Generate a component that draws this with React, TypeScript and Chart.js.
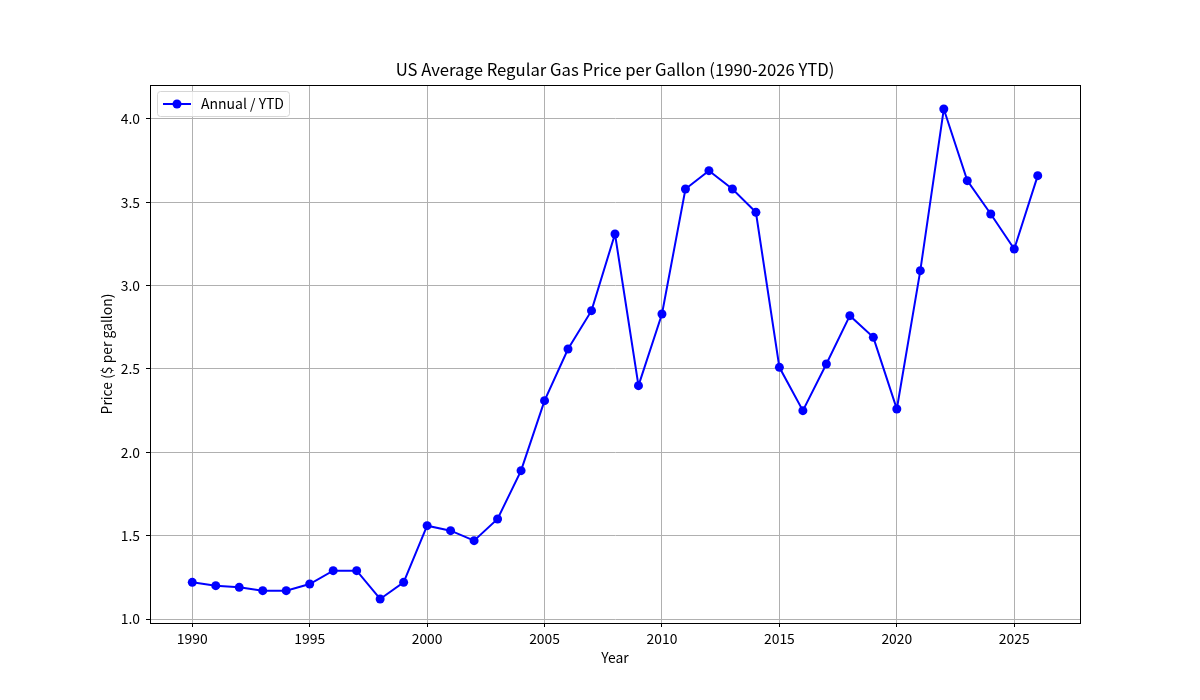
import React, { useEffect, useRef } from "react";
import { Chart, registerables } from "chart.js";

Chart.register(...registerables);

const years = [1990, 1991, 1992, 1993, 1994, 1995, 1996, 1997, 1998, 1999, 2000, 2001, 2002, 2003, 2004, 2005, 2006, 2007, 2008, 2009, 2010, 2011, 2012, 2013, 2014, 2015, 2016, 2017, 2018, 2019, 2020, 2021, 2022, 2023, 2024, 2025, 2026];
const prices = [1.22, 1.20, 1.19, 1.17, 1.17, 1.21, 1.29, 1.29, 1.12, 1.22, 1.56, 1.53, 1.47, 1.60, 1.89, 2.31, 2.62, 2.85, 3.31, 2.40, 2.83, 3.58, 3.69, 3.58, 3.44, 2.51, 2.25, 2.53, 2.82, 2.69, 2.26, 3.09, 4.06, 3.63, 3.43, 3.22, 3.66];
const xTicks = [1990, 1995, 2000, 2005, 2010, 2015, 2020, 2025];
const yTicks = [1.0, 1.5, 2.0, 2.5, 3.0, 3.5, 4.0];
const titleText = "US Average Regular Gas Price per Gallon (1990-2026 YTD)";
const xLabel = "Year";
const yLabel = "Price ($ per gallon)";
const seriesLabel = "Annual / YTD";

const FONT = "'Noto Sans CJK SC', 'Noto Sans', sans-serif";
const LINE = "#0000ff";

const framePlugin = {
  id: "frame",
  afterDatasetsDraw(chart: any) {
    const { ctx, chartArea } = chart;
    ctx.save();
    ctx.strokeStyle = "#000";
    ctx.lineWidth = 1;
    ctx.strokeRect(
      Math.round(chartArea.left) + 0.5,
      Math.round(chartArea.top) + 0.5,
      Math.round(chartArea.right - chartArea.left),
      Math.round(chartArea.bottom - chartArea.top)
    );
    ctx.restore();
  },
  afterDraw(chart: any) {
    const { ctx, chartArea } = chart;
    // title centred over the plot area
    ctx.save();
    ctx.fillStyle = "#000";
    ctx.font = `16.7px ${FONT}`;
    ctx.textAlign = "center";
    ctx.textBaseline = "middle";
    ctx.fillText(titleText, (chartArea.left + chartArea.right) / 2, chartArea.top - 15);
    ctx.restore();

    // legend inside the plot
    const x0 = chartArea.left + 7;
    const y0 = chartArea.top + 6;
    const w = 132;
    const h = 25;
    ctx.save();
    ctx.beginPath();
    if (ctx.roundRect) ctx.roundRect(x0 + 0.5, y0 + 0.5, w, h, 3);
    else ctx.rect(x0 + 0.5, y0 + 0.5, w, h);
    ctx.fillStyle = "rgba(255,255,255,0.8)";
    ctx.fill();
    ctx.strokeStyle = "#d6d6d6";
    ctx.lineWidth = 1;
    ctx.stroke();
    const cy = y0 + h / 2 + 0.5;
    ctx.beginPath();
    ctx.moveTo(x0 + 6, cy);
    ctx.lineTo(x0 + 34, cy);
    ctx.strokeStyle = LINE;
    ctx.lineWidth = 2;
    ctx.stroke();
    ctx.beginPath();
    ctx.arc(x0 + 20, cy, 4.5, 0, Math.PI * 2);
    ctx.fillStyle = LINE;
    ctx.fill();
    ctx.fillStyle = "#000";
    ctx.font = `14px ${FONT}`;
    ctx.textBaseline = "middle";
    ctx.textAlign = "left";
    ctx.fillText(seriesLabel, x0 + 44, cy);
    ctx.restore();
  },
};

export default function App() {
  const ref = useRef<HTMLCanvasElement | null>(null);

  useEffect(() => {
    if (!ref.current) return;
    const chart = new Chart(ref.current, {
      type: "line",
      data: {
        datasets: [
          {
            label: seriesLabel,
            data: years.map((y, i) => ({ x: y, y: prices[i] })),
            borderColor: LINE,
            backgroundColor: LINE,
            borderWidth: 2,
            pointRadius: 4.5,
            pointHoverRadius: 4.5,
            pointBackgroundColor: LINE,
            pointBorderColor: LINE,
            pointBorderWidth: 0,
            tension: 0,
            fill: false,
          },
        ],
      },
      options: {
        responsive: false,
        animation: false,
        devicePixelRatio: 1,
        layout: { padding: { left: 0, top: 85, right: 120, bottom: 0 } },
        plugins: {
          legend: { display: false },
          tooltip: { enabled: false },
          title: { display: false },
        },
        scales: {
          x: {
            type: "linear",
            min: 1988.2,
            max: 2027.8,
            afterBuildTicks: (scale: any) => {
              scale.ticks = xTicks.map((v) => ({ value: v }));
            },
            afterFit: (scale: any) => {
              scale.height = 77;
            },
            ticks: {
              color: "#000",
              font: { family: FONT, size: 13.9 },
              padding: 3,
              maxRotation: 0,
              autoSkip: false,
              callback: (v: any) => String(v),
            },
            grid: { color: "#b0b0b0", lineWidth: 1, tickColor: "#000", tickLength: 4, drawTicks: true },
            border: { display: true, color: "#000", width: 1 },
            title: {
              display: true,
              text: xLabel,
              color: "#000",
              font: { family: FONT, size: 13.9, lineHeight: 1.2 },
              padding: { top: 0, bottom: 34 },
            },
          },
          y: {
            type: "linear",
            min: 0.976,
            max: 4.204,
            afterBuildTicks: (scale: any) => {
              scale.ticks = yTicks.map((v) => ({ value: v }));
            },
            afterFit: (scale: any) => {
              scale.width = 150;
            },
            ticks: {
              color: "#000",
              font: { family: FONT, size: 13.9 },
              padding: 6,
              autoSkip: false,
              callback: (v: any) => Number(v).toFixed(1),
            },
            grid: { color: "#b0b0b0", lineWidth: 1, tickColor: "#000", tickLength: 4, drawTicks: true },
            border: { display: true, color: "#000", width: 1 },
            title: {
              display: true,
              text: yLabel,
              color: "#000",
              font: { family: FONT, size: 13.9, lineHeight: 1.2 },
              padding: { top: 98, bottom: 0 },
            },
          },
        },
      },
      plugins: [framePlugin],
    } as any);
    return () => chart.destroy();
  }, []);

  return (
    <div style={{ position: "absolute", left: 0, top: 0, width: 1200, height: 700, background: "#fff" }}>
      <canvas ref={ref} width={1200} height={700} style={{ width: 1200, height: 700, display: "block" }} />
    </div>
  );
}
